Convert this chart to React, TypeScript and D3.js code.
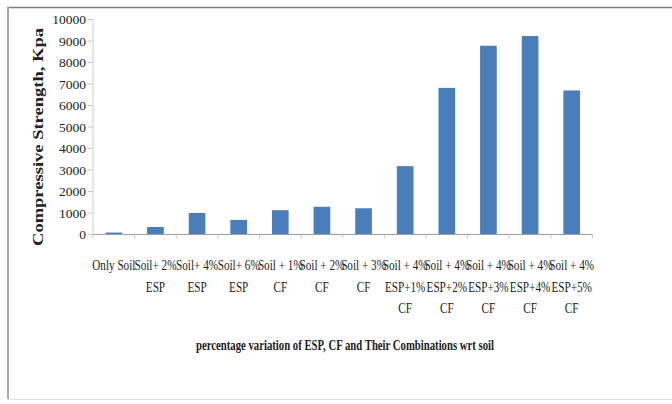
import React from "react";
import * as d3 from "d3";

const categories: string[][] = [
  ["Only Soil"],
  ["Soil+ 2%", "ESP"],
  ["Soil+ 4%", "ESP"],
  ["Soil+ 6%", "ESP"],
  ["Soil + 1%", "CF"],
  ["Soil + 2%", "CF"],
  ["Soil + 3%", "CF"],
  ["Soil + 4%", "ESP+1%", "CF"],
  ["Soil + 4%", "ESP+2%", "CF"],
  ["Soil + 4%", "ESP+3%", "CF"],
  ["Soil + 4%", "ESP+4%", "CF"],
  ["Soil + 4%", "ESP+5%", "CF"],
];
const values: number[] = [90, 350, 1000, 680, 1130, 1290, 1220, 3180, 6820, 8780, 9230, 6700];
const yTicks: number[] = [0, 1000, 2000, 3000, 4000, 5000, 6000, 7000, 8000, 9000, 10000];
const yTitle = "Compressive Strength, Kpa";
const xTitle = "percentage variation of ESP, CF and Their Combinations wrt soil";

export default function App() {
  const W = 672, H = 404;
  const left = 93, right = 592.5, top = 19.5, bottom = 234.5;
  const ids = categories.map((_, i) => String(i));
  const x = d3.scaleBand<string>().domain(ids).range([left, right]).paddingInner(0.6).paddingOuter(0.3);
  const y = d3.scaleLinear().domain([0, 10000]).range([bottom, top]);
  const step = x.step();
  const font = "'Liberation Serif', 'Times New Roman', serif";
  return (
    <svg width={W} height={H} style={{ position: "absolute", left: 0, top: 0, background: "#fff" }}>
      <rect x={0} y={0} width={W} height={H} fill="#fff" />
      {/* outer border */}
      <line x1={7} x2={W} y1={7.5} y2={7.5} stroke="#7f7f7f" strokeWidth={1.5} />
      <line x1={8} x2={8} y1={7} y2={399} stroke="#a6a6a6" strokeWidth={2} />
      <line x1={8} x2={W} y1={399.5} y2={399.5} stroke="#e0e0e0" strokeWidth={1} />
      {/* y axis */}
      <line x1={left} x2={left} y1={top} y2={bottom} stroke="#d0d0d0" strokeWidth={1} />
      {yTicks.map((t) => (
        <g key={t}>
          <line x1={left - 5} x2={left} y1={y(t)} y2={y(t)} stroke="#c8c8c8" />
          <text x={86} y={y(t)} dy="0.35em" textAnchor="end" fontFamily={font} fontSize={13.5} fill="#222">
            {t}
          </text>
        </g>
      ))}
      {/* bars */}
      {values.map((v, i) => (
        <rect key={i} x={x(String(i))!} y={y(v)} width={x.bandwidth()} height={y(0) - y(v)} fill="#4a7ebb" />
      ))}
      {/* x axis */}
      <line x1={left} x2={right} y1={bottom} y2={bottom} stroke="#a0a0a0" strokeWidth={1} />
      {d3.range(categories.length + 1).map((i) => (
        <line key={i} x1={left + i * step} x2={left + i * step} y1={bottom} y2={bottom + 4} stroke="#c8c8c8" />
      ))}
      {categories.map((lines, i) => {
        const cx = x(String(i))! + x.bandwidth() / 2;
        return lines.map((ln, j) => (
          <text
            key={i + "-" + j}
            transform={`translate(${cx},${270 + j * 21.5}) scale(0.8,1)`}
            textAnchor="middle"
            fontFamily={font}
            fontSize={14}
            fill="#222"
          >
            {ln}
          </text>
        ));
      })}
      {/* titles */}
      <text
        x={345}
        y={350}
        textAnchor="middle"
        fontFamily={font}
        fontSize={14}
        fontWeight="bold"
        fill="#222"
        textLength={298}
        lengthAdjust="spacingAndGlyphs"
      >
        {xTitle}
      </text>
      <text
        transform="translate(43,137) rotate(-90)"
        textAnchor="middle"
        fontFamily={font}
        fontSize={14}
        fontWeight="bold"
        fill="#222"
        textLength={218}
        lengthAdjust="spacingAndGlyphs"
      >
        {yTitle}
      </text>
    </svg>
  );
}
